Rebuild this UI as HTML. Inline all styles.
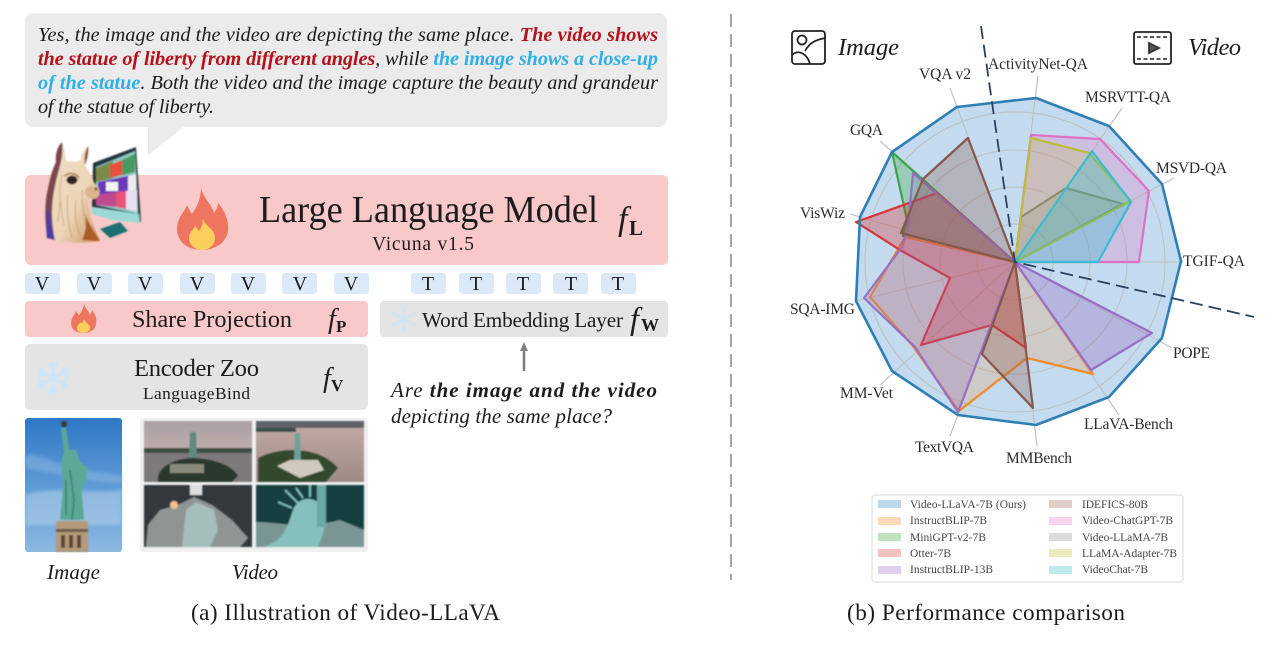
<!DOCTYPE html>
<html><head><meta charset="utf-8"><style>
html,body{margin:0;padding:0;background:#fff;width:1280px;height:646px;overflow:hidden}
svg{display:block;filter:blur(.35px)}
text{font-family:"Liberation Serif",serif;fill:#1c1c1c}
.i{font-style:italic}
.l{font-size:15.5px;fill:#2b2b2b}
.g{font-size:11.5px;fill:#444}
</style></head><body>
<svg width="1280" height="646" viewBox="0 0 1280 646" xmlns="http://www.w3.org/2000/svg">
<defs>
<filter id="b1"><feGaussianBlur stdDeviation="0.7"/></filter>
<filter id="b2"><feGaussianBlur stdDeviation="1.6"/></filter>
<linearGradient id="sky" x1="0" y1="0" x2="0" y2="1"><stop offset="0" stop-color="#2f78c4"/><stop offset=".5" stop-color="#5d9ad6"/><stop offset="1" stop-color="#8db8e0"/></linearGradient>
<linearGradient id="dusk" x1="0" y1="0" x2="0" y2="1"><stop offset="0" stop-color="#a9a0a4"/><stop offset="1" stop-color="#d6b8b2"/></linearGradient>
<linearGradient id="dusk2" x1="0" y1="0" x2="0" y2="1"><stop offset="0" stop-color="#c3aaa6"/><stop offset="1" stop-color="#9d8a84"/></linearGradient>
<linearGradient id="fur" x1="0" y1="0" x2="1" y2="1"><stop offset="0" stop-color="#f0dcc4"/><stop offset=".6" stop-color="#ecd6b8"/><stop offset="1" stop-color="#c9905c"/></linearGradient>
</defs>

<!-- bubble -->
<rect x="25" y="13" width="642" height="114" rx="8" fill="#ebebeb"/>
<polygon points="148,125 186,125 148,155" fill="#ebebeb"/>
<text class="i" font-size="20.3" x="38" y="41" textLength="620" lengthAdjust="spacing">Yes, the image and the video are depicting the same place. <tspan font-weight="bold" style="fill:#b5121b">The video shows</tspan></text>
<text class="i" font-size="20.3" x="38" y="65" textLength="620" lengthAdjust="spacing"><tspan font-weight="bold" style="fill:#b5121b">the statue of liberty from different angles</tspan>, while <tspan font-weight="bold" style="fill:#2fb0e6">the image shows a close-up</tspan></text>
<text class="i" font-size="20.3" x="38" y="89" textLength="620" lengthAdjust="spacing"><tspan font-weight="bold" style="fill:#2fb0e6">of the statue</tspan>. Both the video and the image capture the beauty and grandeur</text>
<text class="i" font-size="20.3" x="38" y="113" textLength="176" lengthAdjust="spacing">of the statue of liberty.</text>

<!-- LLM -->
<rect x="25" y="175" width="643" height="90" rx="6" fill="#f9c9c9"/>
<!-- llama + monitor -->
<g filter="url(#b1)">
<polygon points="93,163 136,147 141,222 108,215 92,208" fill="#22343c"/>
<polygon points="96,167 135,151 138,214 96,205" fill="#8fc8c8"/>
<polygon points="96,168 113,161 113,178 96,182" fill="#7a8a4a"/>
<polygon points="110,165 122,160 122,175 110,178" fill="#e8503c"/>
<polygon points="122,160 135,154 135,172 122,175" fill="#4a9a60"/>
<polygon points="98,182 128,176 128,192 98,195" fill="#6a38b8"/>
<polygon points="128,176 136,174 136,190 128,192" fill="#f0eaf0"/>
<rect x="106" y="182" width="12" height="9" fill="#f4f4f4"/>
<polygon points="96,195 116,192 116,207 96,205" fill="#c04a90"/>
<polygon points="116,192 126,191 126,209 116,207" fill="#e8527a"/>
<polygon points="126,191 137,190 137,212 126,209" fill="#e8e0f0"/>
<polygon points="92,207 139,214 140,223 112,220 92,214" fill="#9adad6"/>
<polygon points="100,229 120,222 128,231 110,238" fill="#1f7072"/>
<!-- llama -->
<path d="M47,238 C45,225 44,205 48,188 C50,176 52,168 56,162 C55,155 57,147 62,142 C65,148 65,155 66,161 C72,162 78,162 81,160 C81,155 84,149 88,146 C90,153 87,160 85,165 C90,172 92,178 94,183 C98,187 101,190 99,195 C97,199 92,200 88,199 C88,206 90,214 92,222 C95,230 98,235 100,241 C80,244 60,243 47,238Z" fill="url(#fur)"/>
<path d="M47,238 C45,222 44,205 48,188 C50,178 52,170 56,162 C55,155 57,147 62,142 C63,150 62,158 60,166 C56,180 52,196 52,212 C52,222 53,232 55,240Z" fill="#7c4650"/>
<path d="M47,238 C46,226 46,214 48,206 C50,216 51,230 55,240Z" fill="#4d3aa8"/>
<path d="M82,240 C86,232 87,224 85,214 C89,224 94,232 100,241Z" fill="#a95c28"/>
<path d="M85,165 C84,158 85,152 88,146 C89,152 87,160 85,165Z" fill="#8a4a30"/>
<g stroke="#c4935f" stroke-width=".9" fill="none" opacity=".75">
<path d="M62,175 C58,190 60,205 64,225 M68,195 C66,210 68,225 72,238 M76,200 C74,212 76,225 80,236 M82,190 C82,205 84,218 86,228 M60,200 L58,222"/>
</g>
<ellipse cx="72" cy="180" rx="5.5" ry="4.5" fill="#332420"/>
<path d="M64,176 C70,172 76,173 79,178" fill="none" stroke="#a87048" stroke-width="1.5"/>
<ellipse cx="92" cy="192" rx="7" ry="6" fill="#dcb48c"/>
<circle cx="96" cy="189" r="1.4" fill="#443"/>
</g>
<!-- big flame -->
<path d="M201,188 C204,200 212,204 214,213 C217,209 218,206 218,203 C226,212 229,222 228,231 C226,243 215,250 202,250 C188,250 177,242 177,229 C177,218 184,213 187,205 C189,209 190,212 192,214 C197,207 201,198 201,188Z" fill="#ee7560"/>
<path d="M203,219 C205,226 215,229 215,238 C215,245 209,250 202,250 C195,250 189,245 189,238 C189,232 193,231 195,226 C197,228 198,230 199,231 C201,228 203,224 203,219Z" fill="#fbcf5e"/>
<text font-size="38.5" x="259" y="222" textLength="339" lengthAdjust="spacingAndGlyphs">Large Language Model</text>
<text font-size="19.5" x="372" y="250" textLength="102" lengthAdjust="spacing">Vicuna v1.5</text>
<text class="i" font-size="34" x="618" y="230">f</text><text font-size="21" font-weight="bold" x="629" y="235">L</text>

<!-- V tokens -->
<g fill="#dce9f8">
<rect x="25" y="273" width="35" height="21" rx="3"/><rect x="77" y="273" width="35" height="21" rx="3"/><rect x="128" y="273" width="35" height="21" rx="3"/><rect x="180" y="273" width="35" height="21" rx="3"/><rect x="231" y="273" width="35" height="21" rx="3"/><rect x="282" y="273" width="35" height="21" rx="3"/><rect x="334" y="273" width="35" height="21" rx="3"/>
<rect x="411" y="273" width="35" height="21" rx="3"/><rect x="459" y="273" width="35" height="21" rx="3"/><rect x="506" y="273" width="35" height="21" rx="3"/><rect x="553" y="273" width="35" height="21" rx="3"/><rect x="601" y="273" width="35" height="21" rx="3"/>
</g>
<g font-size="20" text-anchor="middle">
<text x="42" y="290">V</text><text x="94" y="290">V</text><text x="145" y="290">V</text><text x="197" y="290">V</text><text x="248" y="290">V</text><text x="300" y="290">V</text><text x="351" y="290">V</text>
<text x="428" y="290">T</text><text x="476" y="290">T</text><text x="523" y="290">T</text><text x="571" y="290">T</text><text x="618" y="290">T</text>
</g>

<!-- Share projection -->
<rect x="25" y="301" width="343" height="36" rx="4" fill="#f9c9c9"/>
<path d="M84,303 C85,309 89,311 90,315 C91,313 92,312 92,310 C96,315 97,320 96,324 C95,330 90,333 83,333 C76,333 71,329 71,323 C71,318 75,315 76,311 C77,313 78,314 79,315 C81,312 84,308 84,303Z" fill="#ee7560"/>
<path d="M84,319 C85,323 90,324 90,328 C90,331 87,333 83,333 C79,333 77,331 77,328 C77,325 79,325 80,322 C81,323 82,323 82,324Z" fill="#fbcf5e"/>
<text font-size="24.2" x="132" y="327" textLength="160" lengthAdjust="spacing">Share Projection</text>
<text class="i" font-size="28" x="328" y="328">f</text><text font-size="17" font-weight="bold" x="336" y="332">P</text>

<!-- Encoder Zoo -->
<rect x="25" y="344" width="343" height="66" rx="5" fill="#e4e4e4"/>
<g stroke="#cfe6f8" stroke-width="3.4" stroke-linecap="round" fill="none">
<path d="M53,362 V394 M39,370 L67,386 M39,386 L67,370 M49,364 L53,368 L57,364 M49,392 L53,388 L57,392 M39,376 L44,373 L42,368 M67,380 L62,383 L64,388 M39,380 L44,383 L42,388 M67,376 L62,373 L64,368"/>
</g>
<text font-size="24.6" x="134" y="376" textLength="125" lengthAdjust="spacing">Encoder Zoo</text>
<text font-size="17.3" x="143" y="399" textLength="107" lengthAdjust="spacing">LanguageBind</text>
<text class="i" font-size="28" x="323" y="387">f</text><text font-size="17" font-weight="bold" x="331" y="391">V</text>

<!-- Word Embedding -->
<rect x="380" y="301" width="288" height="36" rx="4" fill="#e4e4e4"/>
<g stroke="#cfe6f6" stroke-width="2.4" stroke-linecap="round" fill="none">
<path d="M404,307 V331 M393,313 L415,325 M393,325 L415,313"/>
</g>
<text font-size="21.2" x="422" y="327" textLength="201" lengthAdjust="spacing">Word Embedding Layer</text>
<text class="i" font-size="32" x="630" y="329">f</text><text font-size="18" font-weight="bold" x="641" y="331">W</text>
<!-- arrow -->
<path d="M524,371 V346" stroke="#808080" stroke-width="2.6"/>
<path d="M520,351 L524,342 L528,351Z" fill="#808080"/>
<text class="i" font-size="21" x="391" y="397" textLength="266" lengthAdjust="spacing">Are <tspan font-weight="bold">the image and the video</tspan></text>
<text class="i" font-size="21" x="391" y="423" textLength="221" lengthAdjust="spacing">depicting the same place?</text>

<!-- Image photo -->
<rect x="25" y="418" width="97" height="134" rx="3" fill="url(#sky)"/>
<g filter="url(#b1)">
<path d="M25,455 C45,452 55,470 122,475 V483 C90,483 50,472 25,468Z" fill="#8eb8e0" opacity=".5" filter="url(#b2)"/>
<path d="M25,495 C50,485 90,495 122,490 V525 H25Z" fill="#b4d0ea" opacity=".55" filter="url(#b2)"/>
<path d="M61,428 L66,428 L69,450 L76,450 L80,462 L88,468 L86,480 L82,490 L84,520 L60,520 L63,485 L61,462 L64,452Z" fill="#5ba898"/>
<path d="M70,470 L74,500 L72,520 M66,480 L66,515" stroke="#3f8072" stroke-width="1.6" fill="none"/>
<circle cx="64" cy="424" r="3" fill="#3a3a2a"/>
<rect x="56" y="521" width="32" height="31" fill="#b49a78"/>
<rect x="56" y="529" width="32" height="3" fill="#6a5a48"/>
<rect x="61" y="535" width="4" height="13" fill="#5a4a3a"/><rect x="69" y="535" width="4" height="13" fill="#5a4a3a"/><rect x="77" y="535" width="4" height="13" fill="#5a4a3a"/>
</g>
<!-- Video tile -->
<rect x="140" y="418" width="228" height="134" rx="3" fill="#f0f0f0"/>
<g filter="url(#b1)">
<rect x="144" y="421" width="108" height="61" fill="url(#dusk)"/>
<rect x="144" y="448" width="108" height="5" fill="#3d4d45"/>
<rect x="144" y="453" width="108" height="29" fill="#7e797c"/>
<path d="M158,482 C156,470 168,460 190,458 C210,458 232,464 238,476 L232,482Z" fill="#2c382e"/>
<rect x="170" y="464" width="34" height="9" fill="#8a8a7a"/>
<path d="M190,432 L196,432 L197,458 L189,458Z" fill="#5f8a80"/>

<rect x="256" y="421" width="108" height="61" fill="url(#dusk2)"/>
<rect x="256" y="421" width="108" height="7" fill="#5f6468"/>
<rect x="256" y="428" width="40" height="4" fill="#3e4d4a"/>
<path d="M258,458 C280,446 320,446 338,468 L326,482 H258Z" fill="#33492f"/>
<polygon points="277,466 290,460 318,460 324,470 300,478" fill="#cfcabd"/>
<path d="M295,433 L300,433 L301,460 L294,460Z" fill="#6fa098"/>

<rect x="144" y="485" width="108" height="62" fill="#33383a"/>
<polygon points="146,547 148,525 160,510 178,505 194,497 212,505 232,520 248,538 240,547" fill="#8f9594"/>
<polygon points="182,547 186,510 196,502 214,510 218,530 210,547" fill="#a6bebb"/>
<rect x="190" y="485" width="12" height="10" fill="#ddd"/>
<circle cx="174" cy="505" r="4" fill="#f0c090"/>

<rect x="256" y="485" width="108" height="62" fill="#14403f"/>
<path d="M256,522 C280,522 300,530 340,520 L364,530 V547 H256Z" fill="#7a9694"/>
<path d="M264,547 C285,540 288,525 293,510 C298,497 312,496 320,504 L324,520 C326,532 320,540 318,547Z" fill="#86c0bc"/>
<rect x="317" y="485" width="9" height="42" fill="#6aa8a4"/>
<path d="M298,503 L285,490 M303,498 L296,488 M310,497 L310,485 M292,508 L278,502" stroke="#7fbcb8" stroke-width="2"/>
</g>
<text class="i" font-size="21" x="47" y="579" textLength="53" lengthAdjust="spacing">Image</text>
<text class="i" font-size="21" x="232" y="579" textLength="46" lengthAdjust="spacing">Video</text>
<text font-size="23.2" x="191" y="620" textLength="309" lengthAdjust="spacing">(a) Illustration of Video-LLaVA</text>

<!-- divider -->
<line x1="731" y1="14" x2="731" y2="580" stroke="#9a9a9a" stroke-width="1.8" stroke-dasharray="13 7"/>

<!-- header icons -->
<g fill="none" stroke="#222" stroke-width="1.8">
<rect x="792" y="31" width="33" height="33" rx="3"/>
<circle cx="802" cy="40" r="4.5"/>
<path d="M792,55 C800,48 808,56 810,64 M805,51 C810,42 816,40 825,38"/>
<rect x="1134" y="32" width="37" height="32" rx="2"/>
<path d="M1137,37 H1168 M1137,59 H1168" stroke-dasharray="4 2.5" stroke-width="1.6"/>
<path d="M1149,43 L1159,48 L1149,53Z" fill="#555" stroke="#333"/>
</g>
<text class="i" font-size="24.5" x="838" y="55" textLength="61" lengthAdjust="spacing">Image</text>
<text class="i" font-size="24.5" x="1188" y="55" textLength="53" lengthAdjust="spacing">Video</text>

<!-- radar -->
<polygon points="1036,98 1109,126 1162,184 1181,261 1162,338 1109,397 1036,425 958,415 892,371 856,301 860,217 892,152 957,107" fill="#c4dbef"/>
<g fill="none" stroke="#bcc3c8" stroke-width="1.2">
<circle cx="1015" cy="262" r="38"/><circle cx="1015" cy="262" r="75"/><circle cx="1015" cy="262" r="112"/><circle cx="1015" cy="262" r="150"/>
<path d="M1015,262 L1038,76 M1015,262 L1122,108 M1015,262 L1174,178 M1015,262 L1183,262 M1015,262 L1172,348 M1015,262 L1119,415 M1015,262 L1037,446 M1015,262 L950,436 M1015,262 L880,385 M1015,262 L856,301 M1015,262 L850,214 M1015,262 L880,141 M1015,262 L950,88"/>
</g>
<g stroke-width="2.2" stroke-linejoin="round">
<polygon points="1031,135 1100,139 1149,191 1139,262 1015,262" fill="#e377c2" fill-opacity=".28" stroke="#e070c4"/>
<polygon points="1021,217 1066,188 1123,204 1015,262" fill="#7f7f7f" fill-opacity=".22" stroke="#808080"/>
<polygon points="1031,138 1089,153 1131,201 1015,262" fill="#bcbd22" fill-opacity=".2" stroke="#bcbd3a"/>
<polygon points="1092,151 1131,202 1098,262 1015,262" fill="#17becf" fill-opacity=".28" stroke="#3bbcd0"/>
<polygon points="892,152 907,220 903,236 1015,262" fill="#2ca02c" fill-opacity=".28" stroke="#3aa648"/>
<polygon points="905,237 870,297 912,345 959,411 1027,358 1093,374 1015,262" fill="#ff7f0e" fill-opacity=".18" stroke="#f28c28"/>
<polygon points="1015,262 937,193 856,222 900,250 950,278 921,345 992,325 1026,348" fill="#d62728" fill-opacity=".32" stroke="#d8343c"/>
<polygon points="1015,262 913,173 908,228 902,247 864,298 915,347 958,412" fill="#9467bd" fill-opacity=".25" stroke="#9670c4"/>
<polygon points="1015,262 1152,333 1091,370" fill="#9467bd" fill-opacity=".32" stroke="#9670c4"/>
<polygon points="1015,262 968,138 923,179 901,233" fill="#8c564b" fill-opacity=".3" stroke="#85584e"/>
<polygon points="1015,262 982,354 1033,408" fill="#8c564b" fill-opacity=".3" stroke="#85584e"/>
</g>
<polygon points="1036,98 1109,126 1162,184 1181,261 1162,338 1109,397 1036,425 958,415 892,371 856,301 860,217 892,152 957,107" fill="none" stroke="#2f7fb5" stroke-width="2.6" stroke-linejoin="round"/>
<path d="M981,26 L1015,262 L1254,317" fill="none" stroke="#2b3f60" stroke-width="1.8" stroke-dasharray="13 6"/>

<g class="lab">
<text class="l" x="988" y="69" textLength="100" lengthAdjust="spacing">ActivityNet-QA</text>
<text class="l" x="919" y="79" textLength="52" lengthAdjust="spacing">VQA v2</text>
<text class="l" x="1085" y="102" textLength="86" lengthAdjust="spacing">MSRVTT-QA</text>
<text class="l" x="850" y="135" textLength="33" lengthAdjust="spacing">GQA</text>
<text class="l" x="1156" y="173" textLength="71" lengthAdjust="spacing">MSVD-QA</text>
<text class="l" x="800" y="218" textLength="45" lengthAdjust="spacing">VisWiz</text>
<text class="l" x="1183" y="266" textLength="62" lengthAdjust="spacing">TGIF-QA</text>
<text class="l" x="790" y="314" textLength="65" lengthAdjust="spacing">SQA-IMG</text>
<text class="l" x="1173" y="358" textLength="37" lengthAdjust="spacing">POPE</text>
<text class="l" x="840" y="398" textLength="53" lengthAdjust="spacing">MM-Vet</text>
<text class="l" x="1084" y="429" textLength="89" lengthAdjust="spacing">LLaVA-Bench</text>
<text class="l" x="915" y="452" textLength="59" lengthAdjust="spacing">TextVQA</text>
<text class="l" x="1006" y="463" textLength="66" lengthAdjust="spacing">MMBench</text>
</g>

<!-- legend -->
<rect x="872" y="495" width="311" height="87" rx="3" fill="#fff" stroke="#e6e6e6" stroke-width="1.5"/>
<g>
<rect x="878" y="500" width="23" height="8" fill="#bcd7ee"/>
<rect x="878" y="517" width="23" height="8" fill="#fdd9b8"/>
<rect x="878" y="533" width="23" height="8" fill="#bfe3bf"/>
<rect x="878" y="549" width="23" height="8" fill="#f5c1c1"/>
<rect x="878" y="566" width="23" height="8" fill="#dcd0ec"/>
<rect x="1049" y="500" width="23" height="8" fill="#e0cfcd"/>
<rect x="1049" y="517" width="23" height="8" fill="#f8d3ec"/>
<rect x="1049" y="533" width="23" height="8" fill="#dcdcdc"/>
<rect x="1049" y="549" width="23" height="8" fill="#ecebc0"/>
<rect x="1049" y="566" width="23" height="8" fill="#bdebf0"/>
</g>
<text class="g" x="910" y="508" textLength="116" lengthAdjust="spacing">Video-LLaVA-7B (Ours)</text>
<text class="g" x="910" y="524" textLength="77" lengthAdjust="spacing">InstructBLIP-7B</text>
<text class="g" x="910" y="541" textLength="76" lengthAdjust="spacing">MiniGPT-v2-7B</text>
<text class="g" x="910" y="557" textLength="41" lengthAdjust="spacing">Otter-7B</text>
<text class="g" x="910" y="573" textLength="83" lengthAdjust="spacing">InstructBLIP-13B</text>
<text class="g" x="1082" y="508" textLength="66" lengthAdjust="spacing">IDEFICS-80B</text>
<text class="g" x="1082" y="524" textLength="91" lengthAdjust="spacing">Video-ChatGPT-7B</text>
<text class="g" x="1082" y="541" textLength="86" lengthAdjust="spacing">Video-LLaMA-7B</text>
<text class="g" x="1082" y="557" textLength="95" lengthAdjust="spacing">LLaMA-Adapter-7B</text>
<text class="g" x="1082" y="573" textLength="66" lengthAdjust="spacing">VideoChat-7B</text>

<text font-size="23.2" x="847" y="620" textLength="278" lengthAdjust="spacing">(b) Performance comparison</text>
</svg>
</body></html>
